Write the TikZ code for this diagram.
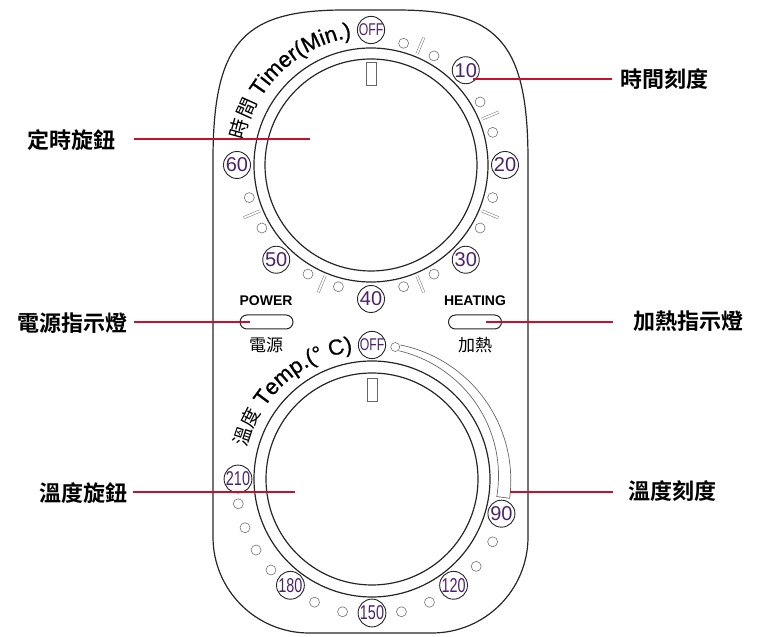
\documentclass[tikz,border=0pt]{standalone}
\usepackage{fontspec}
\setmainfont{Liberation Sans}
\newfontfamily\cjkr{Noto Sans CJK TC}
\newfontfamily\cjkb{Noto Sans CJK TC Bold}
\newfontfamily\numn{Liberation Sans}
\newfontfamily\numc{Liberation Sans}[FakeStretch=0.72]
\newfontfamily\arcfont{Liberation Sans}[FakeBold=0.8]
\usetikzlibrary{decorations.text}
\definecolor{numcol}{RGB}{75,35,105}
\definecolor{callred}{RGB}{200,16,46}
\begin{document}
\begin{tikzpicture}[x=1pt,y=1pt,
  panel/.style={draw=black!85, line width=1.2pt},
  ring/.style={draw=black!85, line width=1.2pt},
  dot/.style={circle, draw=black!55, line width=0.6pt, minimum size=10pt, inner sep=0pt},
  numlab/.style={circle, draw=black!85, line width=0.9pt, minimum size=27pt, inner sep=0pt, text=numcol, font=\numn\fontsize{20}{20}\selectfont},
  numlabc/.style={numlab, font=\numc\fontsize{20}{20}\selectfont},
  offlab/.style={numlab, font=\numc\fontsize{17}{17}\selectfont},
  tickmark/.style={draw=black!55, line width=0.5pt, double=white, double distance=1.8pt},
  indic/.style={draw=black!60, line width=0.7pt},
  band/.style={draw=black!60, line width=0.7pt},
  redline/.style={draw=callred, line width=1.6pt},
  callout/.style={font=\cjkb\fontsize{22}{22}\selectfont, inner sep=0pt},
  lamp/.style={draw=black!85, line width=1pt, rounded corners=7pt, minimum width=53pt, minimum height=14pt, inner sep=0pt},
  lamptxt/.style={font=\bfseries\fontsize{14}{14}\selectfont, inner sep=0pt},
  lampcjk/.style={font=\cjkr\fontsize{17}{17}\selectfont, inner sep=0pt}
]
\useasboundingbox (0,0) rectangle (758,637);
\coordinate (C1) at (371,472);
\coordinate (C2) at (372,158);

% panel outline
\draw[panel] (213,477) .. controls (213,597) and (245,627) .. (345,627)
  -- (396,627) .. controls (496,627) and (528,597) .. (528,477)
  -- (528,100) arc[start angle=0,end angle=-90,radius=96]
  -- (309,4) arc[start angle=270,end angle=180,radius=96] -- cycle;

% top dial
\draw[ring] (C1) circle[radius=106];
\draw[ring] (C1) circle[radius=117];
\draw[indic] (366.5,552) rectangle (376.5,575);
\node[offlab] (t0) at ([shift={(90:135)}]C1) {OFF};
\foreach \a/\t/\n in {45/10/t1, 0/20/t2, -45/30/t3, -90/40/t4, -135/50/t5, 180/60/t6}
  \node[numlab] (\n) at ([shift={(\a:134)}]C1) {\t};
\foreach \a [count=\i] in {75,60,30,15,-15,-30,-60,-75,-105,-120,-150,-165}
  \node[dot] (da\i) at ([shift={(\a:126)}]C1) {};
\foreach \a in {67.5,22.5,-22.5,-67.5,-112.5,-157.5}
  \draw[tickmark] ([shift={(\a:120)}]C1) -- ([shift={(\a:138)}]C1);
\path[decorate, decoration={text along path, text align=left,
  text={|\cjkr\fontsize{20}{20}\selectfont|時間|\arcfont\fontsize{22}{22}\selectfont| Timer(Min.)}}]
  ([shift={(169:129)}]C1) arc[start angle=169, end angle=92, radius=129];

% bottom dial
\draw[ring] (C2) circle[radius=106];
\draw[ring] (C2) circle[radius=118];
\draw[indic] (367,236) rectangle (377,259);
\node[offlab] (b0) at ([shift={(90:134)}]C2) {OFF};
\node[numlab] (b1) at ([shift={(-15:134)}]C2) {90};
\foreach \a/\t/\n in {-52.5/120/b2, -90/150/b3, -127.5/180/b4, 180/210/b5}
  \node[numlabc] (\n) at ([shift={(\a:134)}]C2) {\t};
\foreach \a [count=\i] in {-27.5,-40,-65,-77.5,-102.5,-115,-138,-148.5,-159,-169.5}
  \node[dot] (db\i) at ([shift={(\a:136)}]C2) {};
\node[dot, minimum size=9pt] (bs) at ([shift={(80:134)}]C2) {};
\draw[band] plot[domain=78:-8, samples=45] ({372+(137+2*(78-\x)/86)*cos(\x)}, {158+(137+2*(78-\x)/86)*sin(\x)})
  -- plot[domain=-8:78, samples=45] ({372+(131-5*(78-\x)/86)*cos(\x)}, {158+(131-5*(78-\x)/86)*sin(\x)});
\path[decorate, decoration={text along path, text align=left,
  text={|\cjkr\fontsize{19}{19}\selectfont|溫度|\arcfont\fontsize{22}{22}\selectfont| Temp.(° C)}}]
  ([shift={(166:129)}]C2) arc[start angle=166, end angle=92, radius=129];

% lamps
\node[lamptxt] (pwt) at (266,336) {POWER};
\node[lamp] (pw) at (266.5,315) {};
\node[lampcjk] (pwc) at (266,292) {電源};
\node[lamptxt] (htt) at (475,336) {HEATING};
\node[lamp] (ht) at (475,315) {};
\node[lampcjk] (htc) at (475,292) {加熱};

% callouts
\node[callout, anchor=east] (L1) at (116,497) {定時旋鈕};
\coordinate (E1) at (310,498);
\draw[redline] ([xshift=18pt]L1.east |- E1) -- (E1);

\node[callout, anchor=west] (L2) at (620,558) {時間刻度};
\coordinate (E2) at (473,558);
\draw[redline] ([xshift=-8pt]L2.west |- E2) -- (E2);

\node[callout, anchor=east] (L3) at (128,314) {電源指示燈};
\coordinate (E3) at (250,315);
\draw[redline] ([xshift=6pt]L3.east |- E3) -- (E3);

\node[callout, anchor=west] (L4) at (633,316) {加熱指示燈};
\coordinate (E4) at (486,315);
\draw[redline] ([xshift=-20pt]L4.west |- E4) -- (E4);

\node[callout, anchor=east] (L5) at (128,144) {溫度旋鈕};
\coordinate (E5) at (295,145);
\draw[redline] ([xshift=5pt]L5.east |- E5) -- (E5);

\node[callout, anchor=west] (L6) at (628,146) {溫度刻度};
\coordinate (E6) at (510,145);
\draw[redline] ([xshift=-15pt]L6.west |- E6) -- (E6);
\end{tikzpicture}
\end{document}
